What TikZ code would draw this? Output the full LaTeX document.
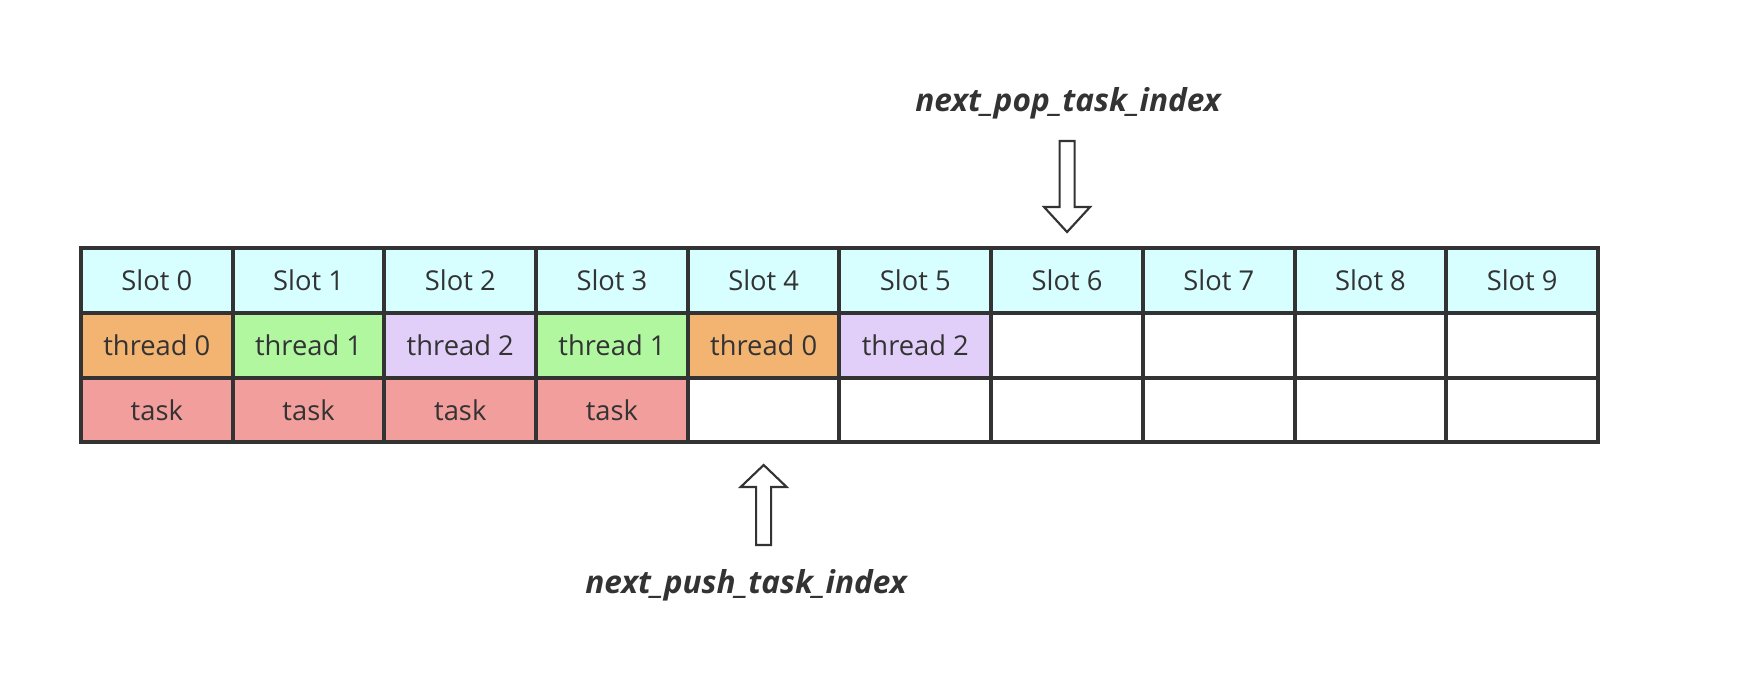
\documentclass[tikz,border=0pt]{standalone}
\usepackage{fontspec}
\setmainfont{Open Sans}
\definecolor{ln}{HTML}{333333}
\definecolor{cyanc}{HTML}{D8FFFF}
\definecolor{orc}{HTML}{F3B472}
\definecolor{grc}{HTML}{B0F7A0}
\definecolor{puc}{HTML}{E1CEF9}
\definecolor{pkc}{HTML}{F19E9C}
\tikzset{
  cell/.style={draw=ln, line width=3pt, minimum width=113.8pt, minimum height=48.5pt,
    inner sep=0pt, text=ln, font=\fontsize{20.5}{24}\selectfont},
  lbl/.style={text=ln, font=\fontsize{23.7}{27}\selectfont\bfseries\itshape, inner sep=0pt},
  blockarrow/.style={draw=ln, line width=1.6pt, fill=white, line join=miter}
}
\begin{document}
\begin{tikzpicture}[x=0.75pt,y=-0.75pt]
\useasboundingbox (0,0) rectangle (1740,672);
% slot row
\foreach \i in {0,...,9}{
  \node[cell, fill=cyanc] (s\i) at ({81+151.7*(\i+0.5)},280.5) {Slot \i};
}
% thread row
\foreach \i/\c/\t in {0/orc/thread 0,1/grc/thread 1,2/puc/thread 2,3/grc/thread 1,4/orc/thread 0,5/puc/thread 2,6/white/,7/white/,8/white/,9/white/}{
  \node[cell, fill=\c] (t\i) at ({81+151.7*(\i+0.5)},345.5) {\t};
}
% task row
\foreach \i/\c/\t in {0/pkc/task,1/pkc/task,2/pkc/task,3/pkc/task,4/white/,5/white/,6/white/,7/white/,8/white/,9/white/}{
  \node[cell, fill=\c] (k\i) at ({81+151.7*(\i+0.5)},410) {\t};
}
% labels
\node[lbl] (pop) at (1068,103) {next\_pop\_task\_index};
\node[lbl] (push) at (746,585) {next\_push\_task\_index};
% top arrow (down)
\coordinate (pa) at (s6.north |- 0,141);
\draw[blockarrow] ([xshift=-7.5*0.75pt]pa) -- ++(0,66) -- ++(-15.5,0) -- ++(23,25) -- ++(23,-25) -- ++(-15.5,0) -- ++(0,-66) -- cycle;
% bottom arrow (up)
\coordinate (pb) at (k4.south |- 0,545);
\draw[blockarrow] ([xshift=-7.5*0.75pt]pb) -- ++(0,-58) -- ++(-15.5,0) -- ++(23,-22) -- ++(23,22) -- ++(-15.5,0) -- ++(0,58) -- cycle;
\end{tikzpicture}
\end{document}
